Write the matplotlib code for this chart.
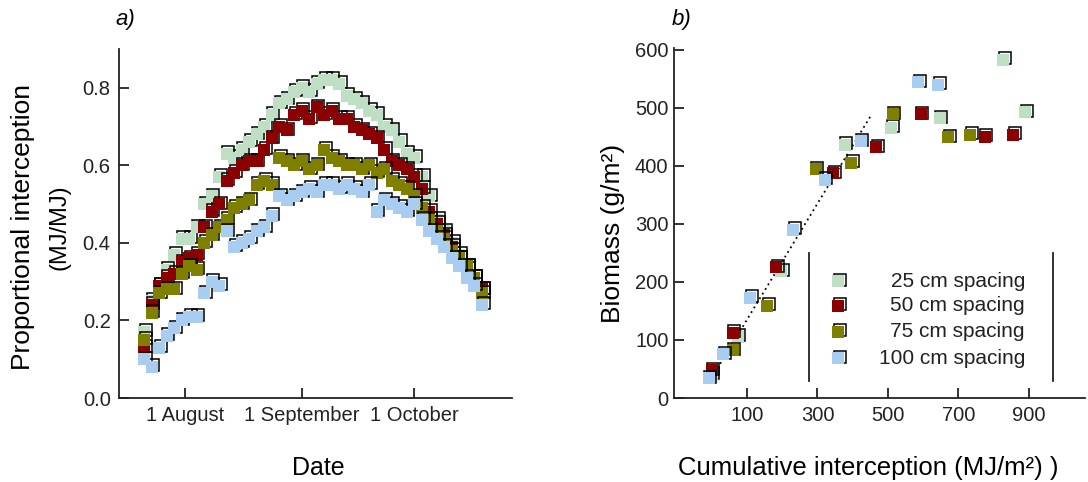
import matplotlib
matplotlib.use("Agg")
import matplotlib.pyplot as plt
from matplotlib.transforms import offset_copy

plt.rcParams['font.family'] = ['Liberation Sans', 'DejaVu Sans']

# ---------------- data ----------------
spacings = ['25 cm spacing', '50 cm spacing', '75 cm spacing', '100 cm spacing']
colors = ['#bfdfc5', '#8b0000', '#7f7f00', '#a9cdf0']

# panel a: day of year vs proportional interception
days = list(range(202, 293, 2))
pi_25 = [0.17, 0.25, 0.29, 0.33, 0.37, 0.41, 0.41, 0.44, 0.50, 0.52,
         0.57, 0.63, 0.62, 0.64, 0.66, 0.68, 0.70, 0.73, 0.76, 0.77,
         0.79, 0.80, 0.79, 0.81, 0.82, 0.82, 0.81, 0.78, 0.77, 0.76,
         0.74, 0.73, 0.70, 0.69, 0.66, 0.63, 0.62, 0.57, 0.52, 0.46,
         0.43, 0.40, 0.37, 0.34, 0.31, 0.28]
pi_50 = [0.13, 0.24, 0.29, 0.31, 0.32, 0.35, 0.36, 0.37, 0.44, 0.48,
         0.50, 0.56, 0.58, 0.60, 0.61, 0.61, 0.64, 0.67, 0.70, 0.69,
         0.73, 0.74, 0.72, 0.75, 0.73, 0.74, 0.72, 0.72, 0.70, 0.69,
         0.68, 0.67, 0.64, 0.61, 0.60, 0.59, 0.57, 0.54, 0.48, 0.45,
         0.42, 0.39, 0.36, 0.33, 0.31, 0.28]
pi_75 = [0.15, 0.22, 0.27, 0.28, 0.28, 0.32, 0.34, 0.33, 0.40, 0.42,
         0.44, 0.46, 0.49, 0.50, 0.51, 0.55, 0.56, 0.55, 0.62, 0.61,
         0.60, 0.61, 0.59, 0.60, 0.64, 0.62, 0.61, 0.60, 0.60, 0.59,
         0.60, 0.58, 0.59, 0.56, 0.55, 0.54, 0.52, 0.49, 0.46, 0.43,
         0.41, 0.38, 0.36, 0.34, 0.31, 0.27]
pi_100 = [0.10, 0.08, 0.13, 0.16, 0.18, 0.20, 0.21, 0.21, 0.27, 0.30,
          0.29, 0.43, 0.39, 0.40, 0.41, 0.43, 0.44, 0.47, 0.52, 0.51,
          0.52, 0.53, 0.54, 0.53, 0.55, 0.55, 0.54, 0.55, 0.54, 0.53,
          0.55, 0.48, 0.51, 0.50, 0.49, 0.48, 0.50, 0.46, 0.43, 0.41,
          0.39, 0.36, 0.34, 0.31, 0.29, 0.24]
date_ticks = [213, 244, 274]
date_labels = ['1 August', '1 September', '1 October']

# panel b: cumulative interception vs biomass
ci_25 = [0, 74, 197, 377, 510, 647, 827, 889]
bm_25 = [40, 105, 218, 436, 465, 482, 583, 492]
ci_50 = [0, 60, 183, 344, 467, 593, 775, 856]
bm_50 = [48, 112, 225, 387, 432, 489, 450, 453]
ci_75 = [60, 157, 295, 396, 513, 671, 733]
bm_75 = [82, 159, 394, 405, 489, 449, 453]
ci_100 = [-8, 32, 109, 231, 321, 423, 586, 643]
bm_100 = [34, 75, 173, 290, 376, 442, 544, 540]
fit_x = [0, 450]
fit_intercept = 35.0
fit_slope = 1.0

# ---------------- figure ----------------
W, H = 1088, 482
fig = plt.figure(figsize=(W / 100, H / 100), dpi=100)
axA = fig.add_axes([119 / W, 1 - 398 / H, (512 - 119) / W, (398 - 49) / H])
axB = fig.add_axes([674 / W, 1 - 398 / H, (1085 - 674) / W, (398 - 48) / H])

MS = 8.6
def squares(ax, x, y, color, **kw):
    tr = offset_copy(kw.pop('transform', ax.transData), fig=fig, x=1.6, y=1.6, units='dots')
    ax.plot(x, y, ls='none', marker='s', ms=MS, mfc='none', mec='black',
            mew=1.1, transform=tr, **kw)
    tr2 = offset_copy(tr, fig=fig, x=-1.6, y=-1.6, units='dots')
    ax.plot(x, y, ls='none', marker='s', ms=MS, mfc=color, mew=0,
            transform=tr2, **kw)

series_a = [pi_25, pi_50, pi_75, pi_100]
for vals, c in zip(series_a, colors):
    squares(axA, days, vals, c, clip_on=False)

series_b = [(ci_25, bm_25), (ci_50, bm_50), (ci_75, bm_75), (ci_100, bm_100)]
fit_y = [fit_intercept + fit_slope * v for v in fit_x]
axB.plot(fit_x, fit_y, ls=(0, (1, 2)), color='black', lw=1.3, zorder=1)
for (xs, ys), c in zip(series_b, colors):
    squares(axB, xs, ys, c, clip_on=False, zorder=3)

for ax in (axA, axB):
    for s in ('top', 'right'):
        ax.spines[s].set_visible(False)
    for s in ('left', 'bottom'):
        ax.spines[s].set_linewidth(1.3)
        ax.spines[s].set_color('#222222')
    ax.tick_params(direction='in', length=7, width=1.3, labelsize=14.5,
                   colors='#222222')

axA.set_xlim(195.3, 300)
axA.set_ylim(0, 0.9)
axA.set_xticks(date_ticks)
axA.set_xticklabels(date_labels)
axA.set_yticks([0.0, 0.2, 0.4, 0.6, 0.8])
axA.set_yticklabels(['0.0', '0.2', '0.4', '0.6', '0.8'])
axA.tick_params(axis='y', pad=6)
axA.tick_params(axis='x', pad=6)

axB.set_xlim(-107, 1059)
axB.set_ylim(0, 603)
axB.set_xticks([100, 300, 500, 700, 900])
axB.set_yticks([0, 100, 200, 300, 400, 500, 600])
axB.tick_params(axis='y', pad=4)
axB.tick_params(axis='x', pad=6)

# legend (manual, right-aligned labels)
leg_y = [0.334, 0.263, 0.189, 0.114]
for lab, c, yy in zip(spacings, colors, leg_y):
    squares(axB, [0.399], [yy], c, transform=axB.transAxes, clip_on=False, zorder=4)
    axB.text(0.854, yy, lab, transform=axB.transAxes, ha='right', va='center',
             fontsize=15, color='#222222')
for xx in (0.328, 0.922):
    axB.plot([xx, xx], [0.049, 0.414], transform=axB.transAxes, color='#222222',
             lw=1.3, clip_on=False)

# labels
fig.text(125 / W, 1 - 20 / H, 'a)', style='italic', fontsize=16, ha='center', va='center')
fig.text(682 / W, 1 - 20 / H, 'b)', style='italic', fontsize=16, ha='center', va='center')
fig.text(23 / W, 1 - 227 / H, 'Proportional interception', rotation=90,
         fontsize=19, ha='center', va='center')
fig.text(60 / W, 1 - 227 / H, '(MJ/MJ)', rotation=90, fontsize=17,
         ha='center', va='center')
fig.text(318 / W, 1 - 468 / H, 'Date', fontsize=18, ha='center', va='center')
fig.text(613 / W, 1 - 233 / H, 'Biomass (g/m²)', rotation=90, fontsize=19,
         ha='center', va='center')
fig.text(868 / W, 1 - 468 / H, 'Cumulative interception (MJ/m²) )', fontsize=18.5,
         ha='center', va='center')

fig.savefig('out.png', dpi=100)
